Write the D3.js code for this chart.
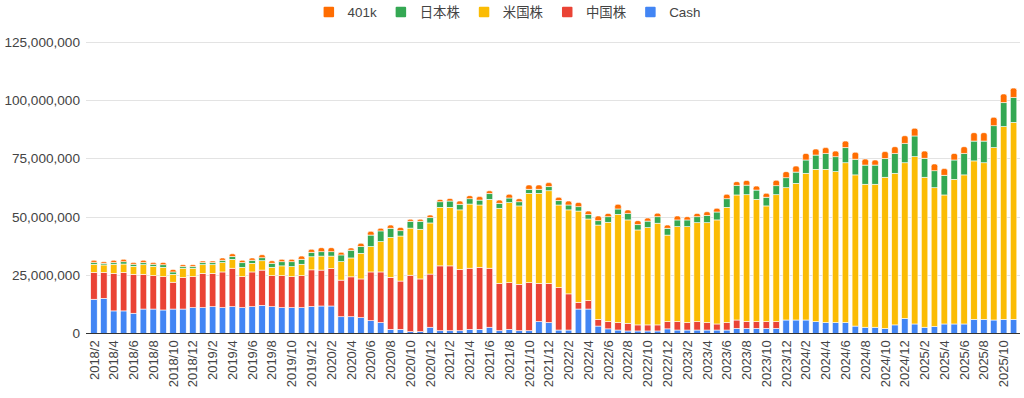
<!DOCTYPE html>
<html>
<head>
<meta charset="utf-8">
<script src="https://cdn.jsdelivr.net/npm/d3@7"></script>
<style>
  html, body { margin: 0; padding: 0; background: #fff; }
  svg { display: block; font-family: Arial, "Liberation Sans", "Noto Sans CJK JP", sans-serif; }
</style>
</head>
<body>
<svg id="chart" width="1024" height="398"></svg>
<script>
// ---- data (values in yen) ----
const months = [];
for (let yr = 2018; yr <= 2025; yr++) {
  for (let m = 1; m <= 12; m++) {
    if (yr === 2018 && m < 2) continue;
    if (yr === 2025 && m > 11) continue;
    months.push(yr + "/" + m);
  }
}
const seriesNames = ["Cash", "中国株", "米国株", "日本株", "401k"];
const seriesColors = ["#4285F4", "#EA4335", "#FBBC04", "#34A853", "#FF6D01"];
const legendOrder = ["401k", "日本株", "米国株", "中国株", "Cash"];
const yTicks = [0, 25000000, 50000000, 75000000, 100000000, 125000000];

const cash = [14.6,15.0,9.6,9.6,8.6,10.4,10.4,10.0,10.4,10.4,11.0,11.0,11.4,11.0,11.4,11.0,11.4,12.0,11.4,11.0,11.0,11.0,11.5,11.7,11.7,7.1,7.1,6.7,5.4,4.6,1.7,1.7,0.7,0.7,2.6,1.1,1.1,1.1,1.7,1.7,2.6,1.1,1.7,1.1,1.1,5.0,4.6,1.4,1.4,10.4,10.4,3.1,1.9,1.4,1.0,1.0,1.0,1.0,1.9,1.4,1.4,1.4,1.4,1.4,1.4,2.1,2.1,2.1,2.1,2.1,5.7,5.7,5.7,5.0,4.6,4.6,4.6,3.1,2.6,2.6,2.1,3.6,6.4,4.0,2.6,2.9,4.0,4.0,4.0,6.0,6.0,5.7,6.0,6.0].map(v => v * 1e6);
const china = [11.5,11.1,16.1,16.5,16.7,14.9,14.3,14.3,11.5,13.5,13.3,14.7,14.3,15.3,16.5,13.3,14.9,15.1,13.3,13.7,13.3,13.7,15.7,15.4,16.1,15.7,17.1,16.6,20.9,21.7,22.3,20.7,24.2,22.6,22.8,27.8,27.8,26.3,26.2,26.6,25.3,20.3,20.0,19.9,20.6,16.4,16.8,18.2,15.5,2.9,3.6,2.9,3.1,3.2,3.3,2.6,2.6,2.6,3.1,3.6,3.2,3.6,3.2,2.6,3.2,3.6,3.0,2.9,2.9,2.9,0,0,0,0,0,0,0,0,0,0,0,0,0,0,0,0,0,0,0,0,0,0,0,0].map(v => v * 1e6);
const us = [3.5,3.2,3.9,3.6,3.4,4.1,4.0,4.0,3.4,4.0,3.6,3.7,3.7,4.0,3.8,4.0,3.7,4.0,3.6,4.2,4.3,4.9,5.6,6.0,5.3,7.9,8.1,11.0,10.9,13.0,17.1,19.3,20.2,21.3,21.9,25.1,25.1,25.5,27.5,26.7,29.5,32.2,34.3,33.6,38.3,38.6,39.7,35.4,36.0,39.1,35.0,40.4,42.6,46.4,44.3,40.7,41.7,43.6,37.1,40.7,41.1,42.4,42.8,44.6,49.4,53.6,54.3,52.4,49.6,54.4,56.7,58.6,62.9,65.3,65.7,64.7,68.5,64.8,61.3,61.3,64.8,65.0,66.7,71.7,64.3,59.5,55.3,62.0,63.9,67.9,67.1,73.9,82.6,84.4].map(v => v * 1e6);
const japan = [0.8,0.7,0.7,1.0,0.9,0.9,0.9,1.1,1.0,0.7,0.7,0.9,0.9,1.0,1.2,2.0,1.3,1.3,1.7,1.8,2.1,2.1,1.9,1.9,1.9,2.9,3.3,2.9,4.9,4.6,3.9,2.3,2.9,3.4,2.3,2.4,2.7,2.4,2.3,2.1,2.5,2.1,2.0,1.8,1.7,1.7,1.8,1.9,2.1,1.9,1.9,1.9,2.4,2.3,2.8,2.3,2.8,2.8,2.9,2.9,2.9,2.6,3.1,3.4,3.7,4.1,4.1,4.0,3.7,3.9,4.3,4.8,5.7,6.1,6.8,6.4,6.5,6.7,8.2,8.2,8.0,8.5,8.3,8.9,8.1,7.3,8.4,8.3,9.2,8.5,9.3,9.4,10.3,10.7].map(v => v * 1e6);
const k401 = [0.9,0.7,1.0,1.0,0.8,1.0,0.8,1.0,1.1,0.8,0.8,0.7,0.7,1.0,1.2,1.0,1.0,1.3,1.1,1.0,1.0,1.4,1.3,1.7,1.7,1.1,1.0,1.4,1.6,1.1,1.4,1.4,0.9,0.9,1.1,1.0,1.1,1.4,1.3,1.5,1.2,1.4,1.6,1.3,1.9,1.9,1.7,1.4,1.7,1.8,1.5,2.0,1.4,2.0,1.5,1.7,1.3,1.5,1.4,1.7,1.4,1.4,1.6,1.6,1.9,1.6,2.0,1.7,1.7,2.3,2.6,2.6,2.8,2.6,2.5,2.4,2.8,3.0,2.6,2.2,3.0,2.9,3.3,3.3,3.1,2.9,2.9,2.8,2.9,3.6,3.6,3.6,3.7,4.0].map(v => v * 1e6);

// ---- build table ----
const seriesValues = [cash, china, us, japan, k401];
const rows = months.map((m, i) => {
  const r = { month: m };
  seriesNames.forEach((s, j) => r[s] = seriesValues[j][i]);
  return r;
});
const stackData = d3.stack().keys(seriesNames)(rows);

// ---- layout ----
const svg = d3.select("#chart");
const plotLeft = 89, plotRight = 1018.5, plotTop = 41.7, plotBottom = 333.3;

const xScale = d3.scaleBand().domain(months).range([plotLeft, plotRight]).paddingInner(0.34).paddingOuter(0.17);
const yScale = d3.scaleLinear().domain([0, 125000000]).range([plotBottom, plotTop]);

// gridlines
svg.append("g").selectAll("line").data(yTicks.filter(t => t !== 0)).join("line")
  .attr("x1", 86).attr("x2", 1020)
  .attr("y1", d => Math.round(yScale(d)) + 0.5).attr("y2", d => Math.round(yScale(d)) + 0.5)
  .attr("stroke", "#e3e3e3").attr("stroke-width", 1);

// y axis labels
const yAxis = d3.axisLeft(yScale).tickValues(yTicks).tickSize(0).tickPadding(0)
  .tickFormat(d3.format(","));
const yg = svg.append("g").attr("transform", "translate(80,0)").call(yAxis);
yg.select(".domain").remove();
yg.selectAll("text").attr("font-size", 13.6).attr("fill", "#444")
  .attr("font-family", "Arial, 'Liberation Sans', sans-serif");

// bars
const topIdx = seriesNames.length - 1;
function roundTopPath(x0, w, y0, y1, r) {
  const h = y1 - y0;
  r = Math.min(r, w / 2, h);
  return `M${x0},${y1}V${y0 + r}Q${x0},${y0} ${x0 + r},${y0}H${x0 + w - r}Q${x0 + w},${y0} ${x0 + w},${y0 + r}V${y1}Z`;
}
const layers = svg.append("g").selectAll("g").data(stackData).join("g")
  .attr("fill", (d, i) => seriesColors[i]);
layers.each(function(layer, li) {
  const g = d3.select(this);
  const segs = layer.filter(d => d[1] - d[0] > 0);
  if (li === topIdx) {
    g.selectAll("path").data(segs).join("path")
      .attr("d", d => roundTopPath(xScale(d.data.month), xScale.bandwidth(), yScale(d[1]), yScale(d[0]), 2.2))
      .attr("stroke", "#fff").attr("stroke-width", 0.6);
  } else {
    g.selectAll("rect").data(segs).join("rect")
      .attr("x", d => xScale(d.data.month))
      .attr("width", xScale.bandwidth())
      .attr("y", d => yScale(d[1]))
      .attr("height", d => yScale(d[0]) - yScale(d[1]))
      .attr("stroke", "#fff").attr("stroke-width", 0.6);
  }
});

// baseline
svg.append("line").attr("x1", 86).attr("x2", 1020)
  .attr("y1", Math.round(yScale(0)) + 0.5).attr("y2", Math.round(yScale(0)) + 0.5)
  .attr("stroke", "#333").attr("stroke-width", 1);

// x axis labels (every other month)
const xAxis = d3.axisBottom(xScale).tickValues(months.filter((m, i) => i % 2 === 0)).tickSize(0).tickPadding(0);
const xg = svg.append("g").attr("transform", `translate(0,${plotBottom})`).call(xAxis);
xg.select(".domain").remove();
xg.selectAll("text")
  .attr("font-size", 13).attr("fill", "#444")
  .attr("font-family", "Arial, 'Liberation Sans', sans-serif")
  .attr("transform", "rotate(-90)")
  .attr("text-anchor", "end")
  .attr("x", -7).attr("y", 0).attr("dy", "0.35em");

// legend
const legend = svg.append("g");
const itemData = legendOrder.map(n => ({ name: n, color: seriesColors[seriesNames.indexOf(n)] }));
const tmp = legend.append("g");
const widths = itemData.map(d => {
  const t = tmp.append("text").attr("font-size", 13.4).text(d.name);
  const w = t.node().getComputedTextLength(); t.remove(); return w;
});
tmp.remove();
const sq = 10.5, gapText = 13.5, gapItem = 19;
const totalW = d3.sum(widths) + itemData.length * (sq + gapText) + (itemData.length - 1) * gapItem;
let cx = 1024 / 2 - totalW / 2;
itemData.forEach((d, i) => {
  legend.append("rect").attr("x", cx).attr("y", 6.8).attr("width", sq).attr("height", sq).attr("rx", 1).attr("fill", d.color);
  legend.append("text").attr("x", cx + sq + gapText).attr("y", 12).attr("dy", "0.35em")
    .attr("font-size", 13.4).attr("fill", "#444").text(d.name);
  cx += sq + gapText + widths[i] + gapItem;
});
</script>
</body>
</html>
